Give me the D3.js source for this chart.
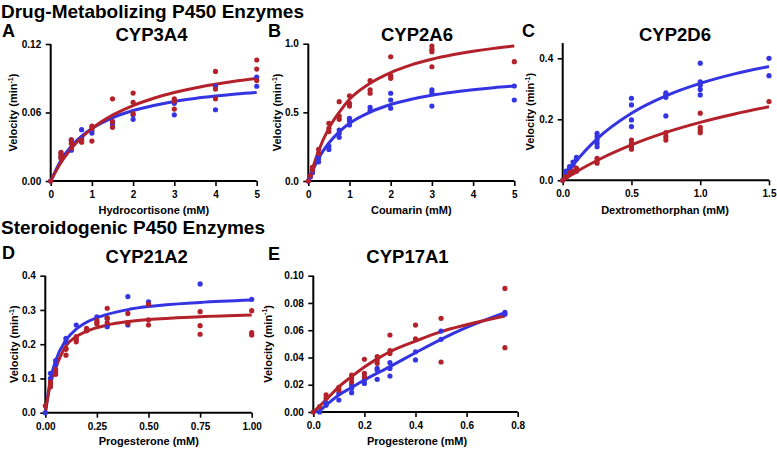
<!DOCTYPE html>
<html><head><meta charset="utf-8">
<script src="https://cdn.jsdelivr.net/npm/d3@7"></script>
<style>
body{margin:0;background:#fff;}
svg{display:block;font-family:"Liberation Sans",Arial,Helvetica,sans-serif;font-weight:bold;}
</style></head>
<body><svg id="c" width="777" height="451"></svg>
<script>
// ---------- DATA ----------
const sectionTitles = ["Drug-Metabolizing P450 Enzymes", "Steroidogenic P450 Enzymes"];
const panelLetters = ["A","B","C","D","E"];
const enzymes = ["CYP3A4","CYP2A6","CYP2D6","CYP21A2","CYP17A1"];
const substrates = ["Hydrocortisone (mM)","Coumarin (mM)","Dextromethorphan (mM)","Progesterone (mM)","Progesterone (mM)"];

// Panel A: CYP3A4 / hydrocortisone
const aXTicks = [0,1,2,3,4,5];
const aYTicks = [0,0.06,0.12];
const aRedPts = [[0,0],[0.25,0.020],[0.25,0.022],[0.25,0.024],[0.25,0.025],[0.5,0.036],[0.5,0.033],[0.5,0.029],
  [0.75,0.036],[0.75,0.034],[1,0.048],[1,0.046],[1,0.035],[1.5,0.072],[1.5,0.052],[1.5,0.047],
  [2,0.077],[2,0.069],[2,0.059],[3,0.072],[3,0.070],[3,0.063],[4,0.096],[4,0.0805],[4,0.072],
  [5,0.106],[5,0.098],[5,0.088]];
const aBluePts = [[0,0],[0.25,0.021],[0.5,0.036],[0.5,0.027],[0.75,0.045],[0.75,0.0375],[1,0.042],[1,0.044],
  [1.5,0.052],[1.5,0.050],[2,0.058],[2,0.054],[3,0.068],[3,0.058],[4,0.083],[4,0.0624],[5,0.091],[5,0.083]];
const aRedFit = [[0,0],[0.25,0.0162],[0.5,0.0285],[0.75,0.0381],[1,0.0459],[1.5,0.0577],[2,0.0661],[2.5,0.0725],
  [3,0.0775],[3.5,0.0815],[4,0.0847],[4.5,0.0875],[5,0.0898]];
const aBlueFit = [[0,0],[0.25,0.0182],[0.5,0.0305],[0.75,0.0393],[1,0.046],[1.5,0.0554],[2,0.0617],[2.5,0.0662],
  [3,0.0697],[3.5,0.0723],[4,0.0744],[4.5,0.0762],[5,0.0776]];

// Panel B: CYP2A6 / coumarin
const bXTicks = [0,1,2,3,4,5];
const bYTicks = [0,0.5,1.0];
const bRedPts = [[0,0],[0.05,0.04],[0.1,0.08],[0.1,0.10],[0.25,0.23],[0.25,0.20],[0.5,0.42],[0.5,0.384],[0.5,0.36],
  [0.75,0.578],[0.75,0.473],[0.75,0.449],[1,0.621],[1,0.566],[1,0.546],[1.5,0.731],[1.5,0.663],[1.5,0.639],
  [2,0.905],[2,0.767],[2,0.748],[3,0.983],[3,0.959],[3,0.942],[3,0.832],[5,0.869]];
const bBluePts = [[0,0],[0.05,0.03],[0.1,0.06],[0.1,0.08],[0.25,0.165],[0.25,0.14],[0.25,0.18],[0.5,0.255],[0.5,0.23],
  [0.75,0.371],[0.75,0.347],[0.75,0.318],[1,0.457],[1,0.437],[1,0.408],[1.5,0.537],[1.5,0.512],
  [2,0.639],[2,0.59],[2,0.53],[3,0.663],[3,0.643],[3,0.546],[5,0.692],[5,0.59]];
const bRedFit = [[0,0],[0.1,0.09],[0.25,0.22],[0.5,0.385],[0.75,0.50],[1,0.595],[1.5,0.712],[2,0.79],[2.5,0.846],
  [3,0.887],[3.5,0.919],[4,0.945],[4.5,0.966],[5,0.983]];
const bBlueFit = [[0,0],[0.1,0.07],[0.25,0.165],[0.5,0.277],[0.75,0.358],[1,0.42],[1.5,0.502],[2,0.557],[2.5,0.596],
  [3,0.625],[3.5,0.647],[4,0.665],[4.5,0.68],[5,0.692]];

// Panel C: CYP2D6 / dextromethorphan
const cXTicks = [0,0.5,1.0,1.5];
const cYTicks = [0,0.2,0.4];
const cRedPts = [[0,0],[0.025,0.01],[0.025,0.012],[0.05,0.02],[0.05,0.025],[0.075,0.03],[0.075,0.025],[0.1,0.04],[0.1,0.035],[0.1,0.03],
  [0.25,0.072],[0.25,0.064],[0.25,0.056],[0.5,0.132],[0.5,0.121],[0.5,0.110],[0.5,0.102],
  [0.75,0.156],[0.75,0.143],[0.75,0.132],[1,0.22],[1,0.174],[1,0.165],[1,0.156],[1.5,0.258]];
const cBluePts = [[0,0],[0.025,0.02],[0.025,0.03],[0.05,0.04],[0.05,0.045],[0.05,0.035],[0.075,0.05],[0.075,0.06],
  [0.1,0.075],[0.1,0.07],[0.1,0.031],[0.25,0.154],[0.25,0.143],[0.25,0.132],[0.25,0.121],[0.25,0.110],
  [0.5,0.269],[0.5,0.247],[0.5,0.198],[0.5,0.176],[0.75,0.287],[0.75,0.280],[0.75,0.272],[0.75,0.211],
  [1,0.384],[1,0.323],[1,0.312],[1,0.298],[1,0.280],[1.5,0.400],[1.5,0.343]];
const cRedFit = [[0,0],[0.05,0.0145],[0.1,0.0282],[0.25,0.065],[0.5,0.116],[0.75,0.157],[1,0.19],[1.25,0.2175],[1.5,0.241]];
const cBlueFit = [[0,0],[0.05,0.0336],[0.1,0.0636],[0.25,0.136],[0.5,0.22],[0.75,0.277],[1,0.318],[1.25,0.349],[1.5,0.373]];

// Panel D: CYP21A2 / progesterone
const dXTicks = [0,0.25,0.5,0.75,1.0];
const dYTicks = [0,0.1,0.2,0.3,0.4];
const dRedPts = [[0,0.02],[0.025,0.09],[0.025,0.084],[0.025,0.076],[0.05,0.126],[0.05,0.119],[0.05,0.112],
  [0.1,0.185],[0.1,0.168],[0.1,0.188],[0.15,0.222],[0.15,0.214],[0.15,0.207],[0.2,0.246],[0.2,0.239],
  [0.25,0.269],[0.25,0.263],[0.25,0.259],[0.3,0.305],[0.3,0.276],[0.3,0.263],[0.4,0.29],[0.4,0.261],
  [0.5,0.317],[0.5,0.271],[0.5,0.256],[0.75,0.295],[0.75,0.254],[0.75,0.229],[1,0.298],[1,0.234],[1,0.227]];
const dBluePts = [[0,0],[0.025,0.115],[0.025,0.10],[0.05,0.152],[0.05,0.139],[0.1,0.217],[0.1,0.207],[0.15,0.256],
  [0.2,0.241],[0.25,0.280],[0.3,0.276],[0.3,0.251],[0.4,0.339],[0.4,0.256],[0.5,0.324],[0.75,0.376],[1,0.331]];
const dRedFit = [[0,0],[0.025,0.085],[0.05,0.13],[0.1,0.195],[0.15,0.222],[0.2,0.238],[0.3,0.256],[0.4,0.266],
  [0.5,0.272],[0.75,0.28],[1,0.285]];
const dBlueFit = [[0,0],[0.025,0.097],[0.05,0.152],[0.1,0.212],[0.15,0.244],[0.2,0.264],[0.3,0.287],[0.4,0.301],
  [0.5,0.31],[0.75,0.322],[1,0.329]];

// Panel E: CYP17A1 / progesterone
const eXTicks = [0,0.2,0.4,0.6,0.8];
const eYTicks = [0,0.02,0.04,0.06,0.08,0.10];
const eRedPts = [[0,0],[0.025,0.004],[0.05,0.0125],[0.05,0.010],[0.1,0.018],[0.1,0.016],[0.15,0.027],[0.15,0.0247],[0.15,0.022],
  [0.2,0.0387],[0.2,0.0284],[0.2,0.0259],[0.25,0.0406],[0.25,0.0381],[0.25,0.0357],[0.3,0.0565],[0.3,0.045],[0.3,0.043],
  [0.4,0.0638],[0.4,0.0536],[0.5,0.0687],[0.5,0.0367],[0.75,0.0907],[0.75,0.0472]];
const eBluePts = [[0.025,0.0],[0.05,0.0068],[0.05,0.005],[0.1,0.0137],[0.1,0.0088],[0.15,0.0198],[0.15,0.0174],[0.15,0.0142],
  [0.2,0.0235],[0.2,0.021],[0.25,0.032],[0.25,0.0308],[0.25,0.024],[0.3,0.0362],[0.3,0.032],[0.3,0.0264],
  [0.4,0.0442],[0.4,0.0382],[0.5,0.0594],[0.5,0.0533],[0.75,0.0731],[0.75,0.0717]];
const eRedFit = [[0,0],[0.05,0.009],[0.1,0.0185],[0.15,0.026],[0.2,0.033],[0.25,0.039],[0.3,0.0442],[0.4,0.052],
  [0.5,0.059],[0.6,0.064],[0.75,0.0704]];
const eBlueFit = [[0,0],[0.025,0.001],[0.05,0.005],[0.1,0.0125],[0.15,0.018],[0.2,0.0235],[0.3,0.0333],[0.4,0.0435],
  [0.5,0.0533],[0.6,0.062],[0.75,0.0729]];

// ---------- LAYOUT / STYLE ----------
const RED = "#b3212b", BLUE = "#3434e2";
const panels = [
  {i:0, x0:50.7, x1:256.7, yB:181, yT:44, xd:[0,5], yd:[0,0.12], xt:aXTicks, yt:aYTicks, xf:d3.format("d"), yf:d3.format(".2f"),
   red:aRedPts, blue:aBluePts, redFit:aRedFit, blueFit:aBlueFit, letter:[2,37], title:[151.5,41], ylab:13, xlab:[153.8,214]},
  {i:1, x0:308.3, x1:514.3, yB:181, yT:43.7, xd:[0,5], yd:[0,1], xt:bXTicks, yt:bYTicks, xf:d3.format("d"), yf:d3.format(".1f"),
   red:bRedPts, blue:bBluePts, redFit:bRedFit, blueFit:bBlueFit, letter:[268,37], title:[417,41], ylab:277, xlab:[411.3,214]},
  {i:2, x0:562.7, x1:769, yB:180.3, yT:43.05, xd:[0,1.5], yd:[0,0.45], xt:cXTicks, yt:cYTicks, xf:d3.format(".1f"), yf:d3.format(".1f"),
   red:cRedPts, blue:cBluePts, redFit:cRedFit, blueFit:cBlueFit, letter:[522,37], title:[675,41], ylab:530, xlab:[665,214]},
  {i:3, x0:45.3, x1:251.7, yB:412.7, yT:275.7, xd:[0,1], yd:[0,0.4], xt:dXTicks, yt:dYTicks, xf:d3.format(".2f"), yf:d3.format(".1f"),
   red:dRedPts, blue:dBluePts, redFit:dRedFit, blueFit:dBlueFit, letter:[2,258.5], title:[146.7,262.5], ylab:14, xlab:[148.8,445]},
  {i:4, x0:313.3, x1:517.7, yB:412, yT:275.7, xd:[0,0.8], yd:[0,0.1], xt:eXTicks, yt:eYTicks, xf:d3.format(".1f"), yf:d3.format(".2f"),
   red:eRedPts, blue:eBluePts, redFit:eRedFit, blueFit:eBlueFit, letter:[268,260], title:[407.5,262.5], ylab:267.5, xlab:[417,444.5]}
];

const svg = d3.select("#c");
svg.append("text").attr("x",1).attr("y",17.5).attr("font-size",19).text(sectionTitles[0]);
svg.append("text").attr("x",1).attr("y",233.5).attr("font-size",19).text(sectionTitles[1]);

panels.forEach(p => {
  const g = svg.append("g");
  const x = d3.scaleLinear().domain(p.xd).range([p.x0,p.x1]);
  const y = d3.scaleLinear().domain(p.yd).range([p.yB,p.yT]);

  g.append("text").attr("x",p.letter[0]).attr("y",p.letter[1]).attr("font-size",18).text(panelLetters[p.i]);
  g.append("text").attr("x",p.title[0]).attr("y",p.title[1]).attr("font-size",18.5).attr("text-anchor","middle").text(enzymes[p.i]);

  const xa = g.append("g").attr("transform",`translate(0,${p.yB})`)
    .call(d3.axisBottom(x).tickValues(p.xt).tickFormat(p.xf).tickSize(5).tickSizeOuter(0));
  const ya = g.append("g").attr("transform",`translate(${p.x0},0)`)
    .call(d3.axisLeft(y).tickValues(p.yt).tickFormat(p.yf).tickSize(5).tickSizeOuter(0));
  [xa,ya].forEach(a => {
    a.select(".domain").attr("stroke","#000").attr("stroke-width",2);
    a.selectAll(".tick line").attr("stroke","#000").attr("stroke-width",1.6);
    a.selectAll(".tick text").attr("font-size",10).attr("font-family","Liberation Sans, Arial, sans-serif").attr("font-weight","bold").attr("fill","#000");
  });
  xa.selectAll(".tick text").attr("dy","0.9em");
  ya.selectAll(".tick text").attr("dx","-0.15em");
  ya.select(".domain").attr("d",`M0,${p.yT}V${p.yB+1}`);
  xa.select(".domain").attr("d",`M${p.x0-1},0H${x(p.xd[1])}`);

  g.append("text").attr("x",p.xlab[0]).attr("y",p.xlab[1]).attr("font-size",11).attr("text-anchor","middle").text(substrates[p.i]);
  const yl = g.append("text").attr("transform",`translate(${p.ylab+4},${(p.yT+p.yB)/2}) rotate(-90)`)
    .attr("font-size",11).attr("text-anchor","middle");
  yl.append("tspan").text("Velocity (min");
  yl.append("tspan").attr("font-size",7).attr("dy",-4.5).text("-1");
  yl.append("tspan").attr("dy",4.5).text(")");

  const line = d3.line().x(d=>x(d[0])).y(d=>y(d[1])).curve(d3.curveMonotoneX);
  g.append("path").datum(p.blueFit).attr("d",line).attr("fill","none").attr("stroke",BLUE).attr("stroke-width",3);
  g.append("path").datum(p.redFit).attr("d",line).attr("fill","none").attr("stroke",RED).attr("stroke-width",3);
  g.selectAll(".bp").data(p.blue).join("circle").attr("cx",d=>x(d[0])).attr("cy",d=>y(d[1])).attr("r",2.6).attr("fill",BLUE);
  g.selectAll(".rp").data(p.red).join("circle").attr("cx",d=>x(d[0])).attr("cy",d=>y(d[1])).attr("r",2.6).attr("fill",RED);
});
</script></body></html>
